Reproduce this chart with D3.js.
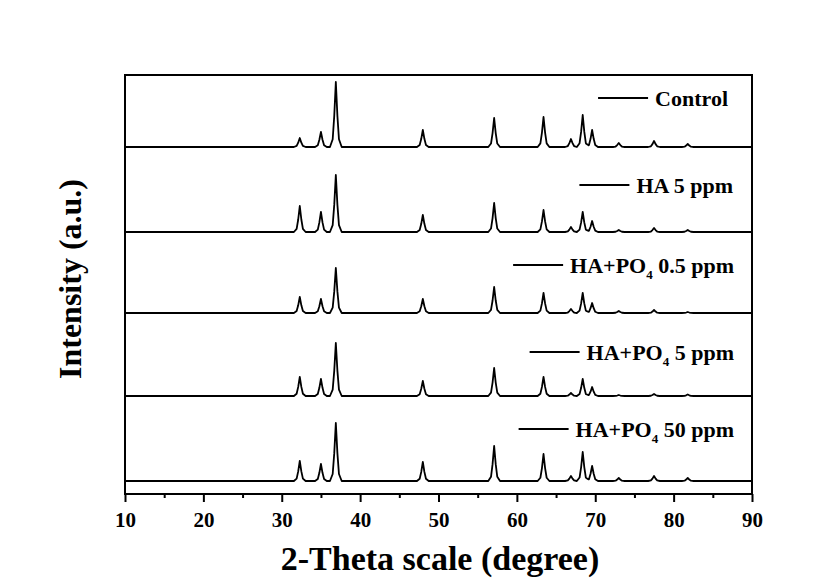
<!DOCTYPE html>
<html>
<head>
<meta charset="utf-8">
<script src="https://cdn.jsdelivr.net/npm/d3@7/dist/d3.min.js"></script>
<style>
  html, body { margin: 0; padding: 0; background: #fff; }
  svg { display: block; }
  text { font-family: "Liberation Serif", "Times New Roman", serif; font-weight: bold; fill: #000; }
</style>
</head>
<body>
<svg id="chart" width="835" height="582"></svg>
<script>
// ---- data ----
const seriesNames = ["Control", "HA 5 ppm", "HA+PO4 0.5 ppm", "HA+PO4 5 ppm", "HA+PO4 50 ppm"];
const peakPositions = [32.3, 35.0, 36.9, 48.0, 57.1, 63.4, 66.9, 68.4, 69.6, 73.0, 77.5, 81.8];
const controlPeaks = [9, 15, 65, 17, 29, 30, 8, 32, 17, 4, 6, 3];
const ha5Peaks     = [26, 20, 57, 17, 29, 22, 5, 20, 11, 2, 4, 2];
const haPo05Peaks  = [16, 14, 45, 14, 26, 20, 4, 20, 10, 2, 3, 1];
const haPo5Peaks   = [19, 17, 53, 15, 28, 19, 3, 17, 9, 1, 2, 1.5];
const haPo50Peaks  = [20, 17, 58, 19, 35, 27, 5, 29, 15, 3, 5, 3];
const seriesOffsets = [347, 262, 181, 98, 13];
const xTicks = [10, 20, 30, 40, 50, 60, 70, 80, 90];
const xMinorTicks = [15, 25, 35, 45, 55, 65, 75, 85];
const xDomain = [10, 90];
const yDomain = [0, 419];

// ---- layout ----
const svg = d3.select("#chart");
const L = 125, R = 752, T = 75, B = 494;
const x = d3.scaleLinear().domain(xDomain).range([L, R]);
const y = d3.scaleLinear().domain(yDomain).range([B, T]);

// peak glyph shape (rendering of each reflection)
const shapeDx = [-0.75, -0.4, -0.2, 0, 0.2, 0.4, 0.75];
const shapeFr = [0, 0.12, 0.48, 1, 0.48, 0.12, 0];
function profileAt(t, heights) {
  let s = 0;
  peakPositions.forEach((p, i) => {
    const d = t - p;
    if (d <= shapeDx[0] || d >= shapeDx[shapeDx.length - 1]) return;
    for (let k = 0; k < shapeDx.length - 1; k++) {
      if (d >= shapeDx[k] && d <= shapeDx[k + 1]) {
        const f = (d - shapeDx[k]) / (shapeDx[k + 1] - shapeDx[k]);
        s += heights[i] * (shapeFr[k] + f * (shapeFr[k + 1] - shapeFr[k]));
        break;
      }
    }
  });
  return s;
}
function tracePoints(heights, offset) {
  const xs = new Set([xDomain[0], xDomain[1]]);
  peakPositions.forEach(p => shapeDx.forEach(d => xs.add(+(p + d).toFixed(4))));
  return Array.from(xs).sort((a, b) => a - b).map(t => [t, offset + profileAt(t, heights)]);
}

const allPeaks = [controlPeaks, ha5Peaks, haPo05Peaks, haPo5Peaks, haPo50Peaks];
const line = d3.line().x(d => x(d[0])).y(d => y(d[1])).curve(d3.curveLinear);

svg.append("g").selectAll("path")
  .data(allPeaks)
  .join("path")
  .attr("d", (h, i) => line(tracePoints(h, seriesOffsets[i])))
  .attr("fill", "none")
  .attr("stroke", "#000")
  .attr("stroke-width", 1.8)
  .attr("stroke-linejoin", "round");

// frame
svg.append("rect")
  .attr("x", L).attr("y", T).attr("width", R - L).attr("height", B - T)
  .attr("fill", "none").attr("stroke", "#000").attr("stroke-width", 2);

// x axis
const gx = svg.append("g").attr("transform", `translate(0,${B})`)
  .call(d3.axisBottom(x).tickValues(xTicks).tickSize(8).tickPadding(10).tickFormat(d3.format("d")));
gx.select(".domain").remove();
gx.selectAll(".tick line").attr("stroke", "#000").attr("stroke-width", 2);
gx.selectAll(".tick text").style("font-size", "21px").style("font-family", "Liberation Serif, serif").style("font-weight", "bold");

const gxm = svg.append("g").attr("transform", `translate(0,${B})`)
  .call(d3.axisBottom(x).tickValues(xMinorTicks).tickSize(4).tickFormat(""));
gxm.select(".domain").remove();
gxm.selectAll(".tick line").attr("stroke", "#000").attr("stroke-width", 2);

// axis titles
svg.append("text")
  .attr("x", 440).attr("y", 570)
  .attr("text-anchor", "middle")
  .style("font-size", "34px")
  .text("2-Theta scale (degree)");

svg.append("text")
  .attr("transform", "translate(81,279) rotate(-90)")
  .attr("text-anchor", "middle")
  .style("font-size", "32px")
  .text("Intensity (a.u.)");

// legend labels
const labelBaselines = [106, 193, 273, 360, 437];
const labelRight = [728, 733, 734, 734, 734];
seriesNames.forEach((name, i) => {
  const g = svg.append("g");
  const t = g.append("text")
    .attr("x", labelRight[i]).attr("y", labelBaselines[i])
    .attr("text-anchor", "end")
    .style("font-size", "22px");
  const m = name.match(/^(HA\+PO)4(.*)$/);
  if (m) {
    t.append("tspan").text(m[1]);
    t.append("tspan").style("font-size", "13px").attr("dy", 6).text("4");
    t.append("tspan").attr("dy", -6).text(m[2]);
  } else {
    t.text(name);
  }
  const bb = t.node().getBBox();
  const x1 = bb.x - 7;
  g.append("line")
    .attr("x1", x1 - 50).attr("x2", x1)
    .attr("y1", labelBaselines[i] - 8).attr("y2", labelBaselines[i] - 8)
    .attr("stroke", "#000").attr("stroke-width", 2);
});
</script>
</body>
</html>
